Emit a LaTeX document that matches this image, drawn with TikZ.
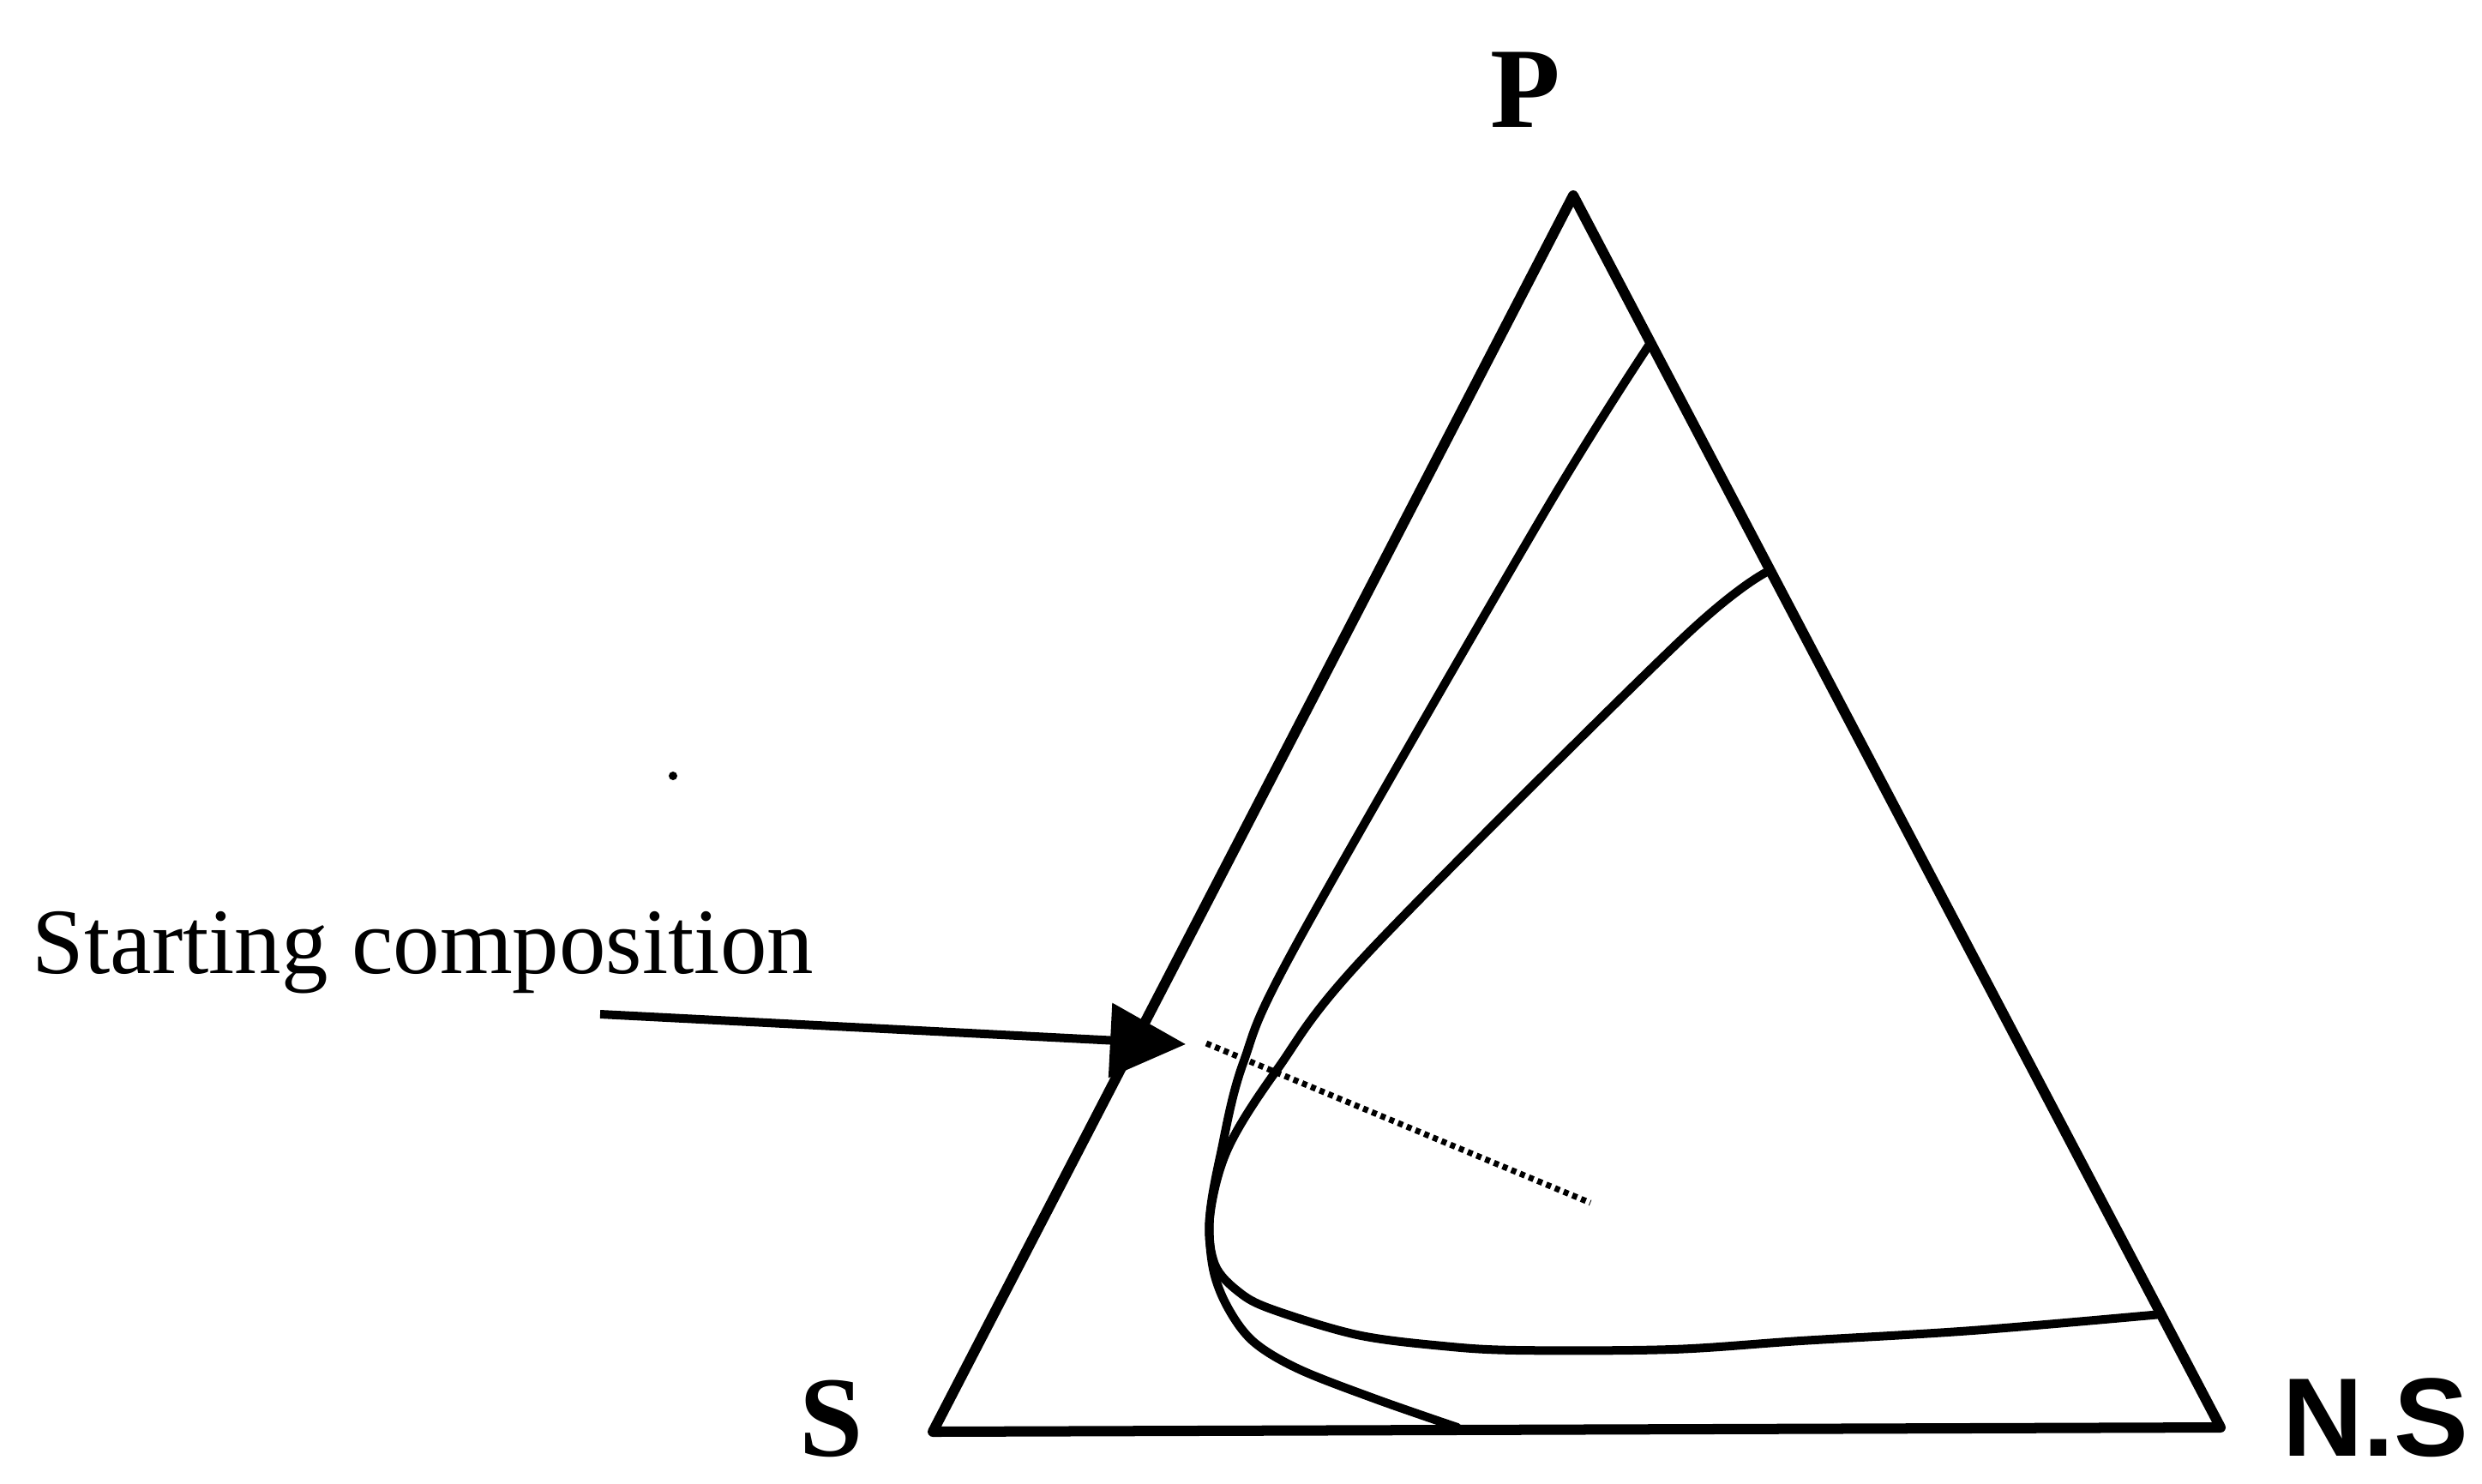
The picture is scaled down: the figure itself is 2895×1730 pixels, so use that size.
\documentclass[tikz,border=0pt]{standalone}
\usepackage{fontspec}
\setmainfont{Liberation Serif}
\newfontfamily\nsfont{Liberation Sans}
\usetikzlibrary{arrows.meta}
\begin{document}
\begin{tikzpicture}[x=0.01cm,y=-0.01cm,
  side/.style={line width=0.12cm, line join=round, line cap=round},
  curve/.style={line width=0.10cm, line cap=round},
  tieline/.style={line width=0.07cm, dash pattern=on 0.06cm off 0.05cm},
  pointer/.style={line width=0.10cm, -{Triangle[length=0.88cm,width=0.85cm]}},
  vlabel/.style={font=\fontsize{38}{42}\selectfont\bfseries, inner sep=0pt, anchor=base},
  ]
\useasboundingbox (0,0) rectangle (2895,1730);
\fill[white] (0,0) rectangle (2895,1730);
% triangle vertices
\coordinate (P) at (1835,228);
\coordinate (S) at (1088,1670);
\coordinate (NS) at (2590,1665);
\draw[side] (P) -- (S) -- (NS) -- cycle;
% vertex labels
\node[vlabel] (Plab) at (1779,148) {P};
\node[vlabel] (Slab) at (970,1698) {S};
\node[vlabel, font=\nsfont\fontsize{37}{42}\selectfont\bfseries] (NSlab) at (2771,1698) {N.S};
% curves
\draw[curve] plot[smooth, tension=0.55] coordinates {(1925,400) (1800,600) (1513,1100) (1450,1240) (1424,1345) (1411,1420) (1415,1480) (1432,1525) (1462,1565) (1515,1597) (1605,1632) (1700,1665)};
\draw[curve] plot[smooth, tension=0.55] coordinates {(2065,665) (1960,747) (1597,1110) (1490,1247) (1432,1340) (1411,1420) (1417,1475) (1445,1507) (1483,1527) (1583,1557) (1683,1570) (1770,1575) (1950,1574) (2100,1564) (2300,1552) (2521,1533)};
% dotted line
\coordinate (d1) at (1407,1217);
\coordinate (d2) at (1855,1403);
\draw[tieline] (d1) -- (d2);
% label and arrow
\node[font=\fontsize{31}{36}\selectfont, inner sep=0pt, anchor=base west] (start) at (37,1135) {Starting composition};
\coordinate (astart) at (700,1183);
\coordinate (atip) at (1383,1218);
\draw[pointer] (astart) -- (atip);
% speck
\fill (785,905) circle (5);
\end{tikzpicture}
\end{document}
